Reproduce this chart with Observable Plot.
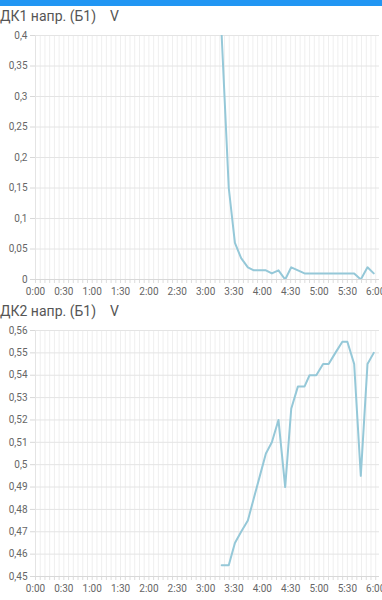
<!DOCTYPE html>
<html>
<head>
<meta charset="utf-8">
<script src="https://cdn.jsdelivr.net/npm/d3@7"></script>
<script src="https://cdn.jsdelivr.net/npm/@observablehq/plot@0.6"></script>
<style>
  html, body { margin: 0; padding: 0; background: #fff; width: 382px; overflow: hidden; }
  body { font-family: Roboto, "Noto Sans", sans-serif; }
  .bar { height: 6px; background: #2196f3; }
  .title { height: 21px; line-height: 21px; font-size: 14px; color: #555; white-space: pre; padding-left: 0; }
  svg { display: block; }
</style>
</head>
<body>
<div class="bar"></div>
<div class="title" id="t1"></div>
<div id="c1"></div>
<div class="title" id="t2"></div>
<div id="c2"></div>
<script>
// time of each sample, minutes after 0:00
const times = [197, 204.5, 211, 217.6, 224.7, 231, 237.4, 243.8, 250.1, 257.1, 264.2, 270.6, 277.7, 284.7, 290, 297.1, 304.3, 310.2, 317.3, 324.7, 330, 337.2, 344.2, 351.3, 357.9];
// ДК1 напр. (Б1), V
const dk1 = [0.4, 0.15, 0.06, 0.035, 0.02, 0.015, 0.015, 0.015, 0.01, 0.015, 0.0, 0.02, 0.015, 0.01, 0.01, 0.01, 0.01, 0.01, 0.01, 0.01, 0.01, 0.01, 0.0, 0.02, 0.01];
// ДК2 напр. (Б1), V
const dk2 = [0.455, 0.455, 0.465, 0.47, 0.475, 0.485, 0.495, 0.505, 0.51, 0.52, 0.49, 0.525, 0.535, 0.535, 0.54, 0.54, 0.545, 0.545, 0.55, 0.555, 0.555, 0.545, 0.495, 0.545, 0.55];

const titles = ["ДК1 напр. (Б1)    V", "ДК2 напр. (Б1)    V"];
const xTicks = [0, 30, 60, 90, 120, 150, 180, 210, 240, 270, 300, 330, 360];
const xTickLabels = ["0:00", "0:30", "1:00", "1:30", "2:00", "2:30", "3:00", "3:30", "4:00", "4:30", "5:00", "5:30", "6:00"];
const xMinorTicks = d3.range(0, 365, 5);
const y1Ticks = [0, 0.05, 0.1, 0.15, 0.2, 0.25, 0.3, 0.35, 0.4];
const y2Ticks = [0.45, 0.46, 0.47, 0.48, 0.49, 0.5, 0.51, 0.52, 0.53, 0.54, 0.55, 0.56];

const fmtY = d => String(+d.toFixed(3)).replace(".", ",");
const fmtX = d => xTickLabels[xTicks.indexOf(d)];

function chart(values, yTicks, yDomain, height, marginBottom) {
  const data = times.map((t, i) => ({t, v: values[i]}));
  return Plot.plot({
    width: 382,
    height,
    marginTop: 8,
    marginBottom,
    marginLeft: 35,
    marginRight: 3,
    style: {fontFamily: "Roboto, 'Noto Sans', sans-serif", fontSize: "10px", color: "#666", background: "#fff"},
    x: {domain: [0, 364], axis: null},
    y: {domain: yDomain, axis: null},
    marks: [
      Plot.gridX(xMinorTicks, {stroke: "#efefef", strokeOpacity: 1}),
      Plot.gridY(yTicks, {stroke: "#e4e4e4", strokeOpacity: 1}),
      Plot.axisX(xMinorTicks, {tickSize: 4, tickFormat: () => "", stroke: "#dcdcdc", label: null}),
      Plot.axisX(xTicks, {tickSize: 0, tickPadding: 8, tickFormat: fmtX, fill: "#666", label: null}),
      Plot.axisY(yTicks, {tickSize: 5, tickPadding: 3, tickFormat: fmtY, stroke: "#d8d8d8", fill: "#666", label: null}),
      Plot.ruleY([yDomain[0]], {stroke: "#d8d8d8"}),
      Plot.ruleX([0], {stroke: "#e4e4e4"}),
      Plot.line(data, {x: "t", y: "v", stroke: "#95c8d8", strokeWidth: 2, clip: true})
    ]
  });
}

document.getElementById("t1").textContent = titles[0];
document.getElementById("t2").textContent = titles[1];
document.getElementById("c1").append(chart(dk1, y1Ticks, [0, 0.4], 274, 22));
document.getElementById("c2").append(chart(dk2, y2Ticks, [0.45, 0.56], 278, 24));
</script>
</body>
</html>
